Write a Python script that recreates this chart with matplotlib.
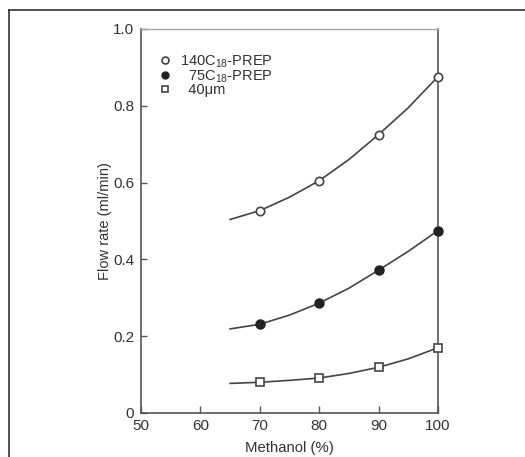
import matplotlib.pyplot as plt
from matplotlib.lines import Line2D

plt.rcParams['font.family'] = ['Liberation Sans', 'DejaVu Sans']
plt.rcParams['mathtext.fontset'] = 'custom'
plt.rcParams['mathtext.rm'] = 'Liberation Sans'
plt.rcParams['mathtext.it'] = 'Liberation Sans'

# measured points
methanol = [70, 80, 90, 100]
flow_140 = [0.527, 0.605, 0.725, 0.876]
flow_75 = [0.231, 0.286, 0.372, 0.475]
flow_40 = [0.080, 0.091, 0.119, 0.170]

# fitted curves
curve_x = [65, 70, 75, 80, 85, 90, 95, 100]
curve_140 = [0.504, 0.527, 0.562, 0.605, 0.660, 0.725, 0.795, 0.876]
curve_75 = [0.219, 0.231, 0.255, 0.286, 0.325, 0.372, 0.421, 0.475]
curve_40 = [0.077, 0.080, 0.085, 0.091, 0.103, 0.119, 0.141, 0.170]

labels = ['140C$_{18}$-PREP', '  75C$_{18}$-PREP', '  40μm']

line_col = '#444444'
text_col = '#333333'

fig = plt.figure(figsize=(5.25, 4.57), dpi=100)
ax = fig.add_axes([0.2686, 0.0963, 0.5657, 0.8403])

# outer frame (top and left only)
fig.add_artist(Line2D([9 / 525, 1], [1 - 10 / 457, 1 - 10 / 457], color='#222222', lw=1.1))
fig.add_artist(Line2D([9 / 525, 9 / 525], [0, 1 - 10 / 457], color='#222222', lw=1.1))

for cy in [curve_140, curve_75, curve_40]:
    ax.plot(curve_x, cy, color=line_col, lw=1.2, zorder=2)

h1, = ax.plot(methanol, flow_140, 'o', ms=6, mfc='white', mec=line_col, mew=1.2,
              clip_on=False, zorder=3)
h2, = ax.plot(methanol, flow_75, 'o', ms=6.5, mfc='#222222', mec='#222222',
              clip_on=False, zorder=3)
h3, = ax.plot(methanol, flow_40, 's', ms=5.5, mfc='white', mec=line_col, mew=1.2,
              clip_on=False, zorder=3)

leg = ax.legend([h1, h2, h3], labels, loc='upper left', bbox_to_anchor=(0.057, 0.936),
                frameon=False, fontsize=10.5, handlelength=1.0, handletextpad=0.5,
                labelspacing=-0.1, borderaxespad=0.0, borderpad=0.0)
for t in leg.get_texts():
    t.set_color(text_col)
for lh in leg.legend_handles:
    lh.set_markersize(5)

ax.set_xlim(50, 100)
ax.set_ylim(0, 1.0)
ax.set_xticks([50, 60, 70, 80, 90, 100])
ax.set_yticks([0, 0.2, 0.4, 0.6, 0.8, 1.0])
ax.set_yticklabels(['0', '0.2', '0.4', '0.6', '0.8', '1.0'])
ax.tick_params(direction='in', length=4, width=1, colors='#555555',
               labelcolor=text_col, labelsize=11, pad=5)
ax.tick_params(axis='x', length=5, pad=4)

for s in ['left', 'bottom', 'right']:
    ax.spines[s].set_color('#555555')
    ax.spines[s].set_linewidth(1.2)
ax.spines['top'].set_color('#aaaaaa')
ax.spines['top'].set_linewidth(1.0)

ax.set_xlabel('Methanol (%)', fontsize=10.7, color=text_col, labelpad=6)
ax.set_ylabel('Flow rate (ml/min)', fontsize=10.5, color=text_col, labelpad=1)

fig.savefig('out.png', dpi=100)
